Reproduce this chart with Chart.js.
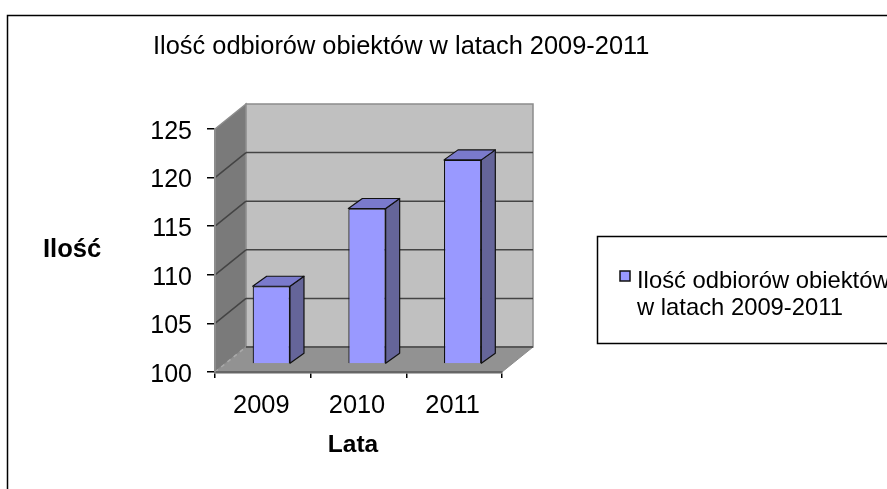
<!DOCTYPE html>
<html><head><meta charset="utf-8">
<style>html,body{margin:0;padding:0;background:#fff}canvas{display:block}</style>
<script src="https://cdn.jsdelivr.net/npm/chart.js@4"></script>
</head><body><canvas id="c" width="887" height="489"></canvas>
<script>
const categories = ['2009','2010','2011'];
const values = [108,116,121];
const seriesName = 'Ilość odbiorów obiektów w latach 2009-2011';
const legendLines = ['Ilość odbiorów obiektów','w latach 2009-2011'];
const yTitle = 'Ilość';
const xTitle = 'Lata';
const FONT = '"Liberation Sans", Arial, sans-serif';
const wall = {dx:31, dy:-25};
const barShift = {dx:8.5, dy:-8};
const barDepth = {dx:14, dy:-10};

function poly(ctx, pts, fill, stroke, lw){
  ctx.beginPath();
  pts.forEach((p,i)=> i?ctx.lineTo(p[0],p[1]):ctx.moveTo(p[0],p[1]));
  ctx.closePath();
  if(fill){ctx.fillStyle=fill;ctx.fill();}
  if(stroke){ctx.strokeStyle=stroke;ctx.lineWidth=lw||1;ctx.stroke();}
}
function text(ctx, s, x, y, font, align){
  ctx.font=font; ctx.fillStyle='#000'; ctx.textAlign=align||'left'; ctx.textBaseline='alphabetic';
  ctx.fillText(s,x,y);
}
const scene = {
  id:'scene',
  beforeDraw(chart){
    const {ctx,chartArea:a,scales:{y}} = chart;
    const L=a.left,R=a.right,T=a.top,B=a.bottom,dx=wall.dx,dy=wall.dy;
    ctx.save();
    ctx.fillStyle='#fff';ctx.fillRect(0,0,chart.width,chart.height);
    poly(ctx,[[L,T],[L+dx,T+dy],[L+dx,B+dy],[L,B]],'#7a7a7a','#8c8c8c',1.5);
    poly(ctx,[[L+dx,T+dy],[R+dx,T+dy],[R+dx,B+dy],[L+dx,B+dy]],'#c0c0c0','#8c8c8c',1.5);
    poly(ctx,[[L,B],[R,B],[R+dx,B+dy],[L+dx,B+dy]],'#929292','#8c8c8c',1);
    ctx.strokeStyle='#444';ctx.lineWidth=1.5;
    y.ticks.forEach(t=>{
      if(t.value===y.max) return;
      const p=y.getPixelForValue(t.value);
      ctx.beginPath();
      if(t.value===y.min){ctx.setLineDash([4,4]);ctx.strokeStyle='#aaa';}
      ctx.moveTo(L,p);ctx.lineTo(L+dx,p+dy);
      ctx.stroke();ctx.setLineDash([]);ctx.strokeStyle='#444';
      ctx.beginPath();ctx.moveTo(L+dx,p+dy);ctx.lineTo(R+dx,p+dy);ctx.stroke();
    });
    ctx.strokeStyle='#000';ctx.lineWidth=1.5;
    ctx.beginPath();ctx.moveTo(7.5,489);ctx.lineTo(7.5,15.5);ctx.lineTo(887,15.5);ctx.stroke();
    ctx.restore();
  },
  beforeDatasetDraw(chart){chart.ctx.save();chart.ctx.translate(barShift.dx,barShift.dy);},
  afterDatasetDraw(chart,args){
    const ctx=chart.ctx;ctx.restore();ctx.save();
    args.meta.data.forEach(b=>{
      const l=b.x-b.width/2+barShift.dx,r=b.x+b.width/2+barShift.dx,t=b.y+barShift.dy,bt=b.base+barShift.dy;
      const dx=barDepth.dx,dy=barDepth.dy;
      ctx.lineJoin='round';
      poly(ctx,[[r,t],[r+dx,t+dy],[r+dx,bt+dy],[r,bt]],'#656599','#111',1.2);
      poly(ctx,[[l,t],[l+dx,t+dy],[r+dx,t+dy],[r,t]],'#7a7acc','#111',1.2);
    });
    ctx.restore();
  },
  afterDraw(chart){
    const ctx=chart.ctx;
    ctx.save();
    text(ctx,seriesName,153,54,'25.4px '+FONT);
    text(ctx,yTitle,43,257,'bold 25.6px '+FONT);
    text(ctx,xTitle,353,452,'bold 24.5px '+FONT,'center');
    ctx.strokeStyle='#000';ctx.lineWidth=1.5;
    ctx.beginPath();ctx.moveTo(887,236.5);ctx.lineTo(597.5,236.5);ctx.lineTo(597.5,343.5);ctx.lineTo(887,343.5);ctx.stroke();
    ctx.fillStyle='#9999ff';ctx.fillRect(620,271,10,10);
    ctx.strokeStyle='#111';ctx.lineWidth=1.5;ctx.strokeRect(620,271,10,10);
    text(ctx,legendLines[0],637,288,'23.8px '+FONT);
    text(ctx,legendLines[1],637,315,'23.8px '+FONT);
    ctx.restore();
  }
};
new Chart(document.getElementById('c'),{
  type:'bar',
  data:{labels:categories,datasets:[{label:seriesName,data:values,base:100,backgroundColor:'#9999ff',borderColor:'#111',borderWidth:1.2,barPercentage:0.39,categoryPercentage:1}]},
  options:{
    responsive:false,animation:false,
    layout:{padding:{left:0,right:385,top:129,bottom:0}},
    plugins:{legend:{display:false},title:{display:false},tooltip:{enabled:false}},
    scales:{
      x:{afterFit(s){s.height=117;},
         grid:{drawOnChartArea:false,drawTicks:true,tickLength:6,color:'#000',lineWidth:1.5},
         border:{color:'#666',width:2.5},
         ticks:{color:'#000',font:{family:FONT,size:25.4},padding:13,labelOffset:-1.5,maxRotation:0}},
      y:{min:100,max:125,afterFit(s){s.width=215;},
         grid:{drawOnChartArea:false,drawTicks:true,tickLength:8,color:'#000',lineWidth:1.5},
         border:{color:'#8c8c8c',width:2},
         ticks:{stepSize:5,color:'#000',font:{family:FONT,size:25},padding:15,labelOffset:3}}
    }
  },
  plugins:[scene]
});
</script></body></html>
